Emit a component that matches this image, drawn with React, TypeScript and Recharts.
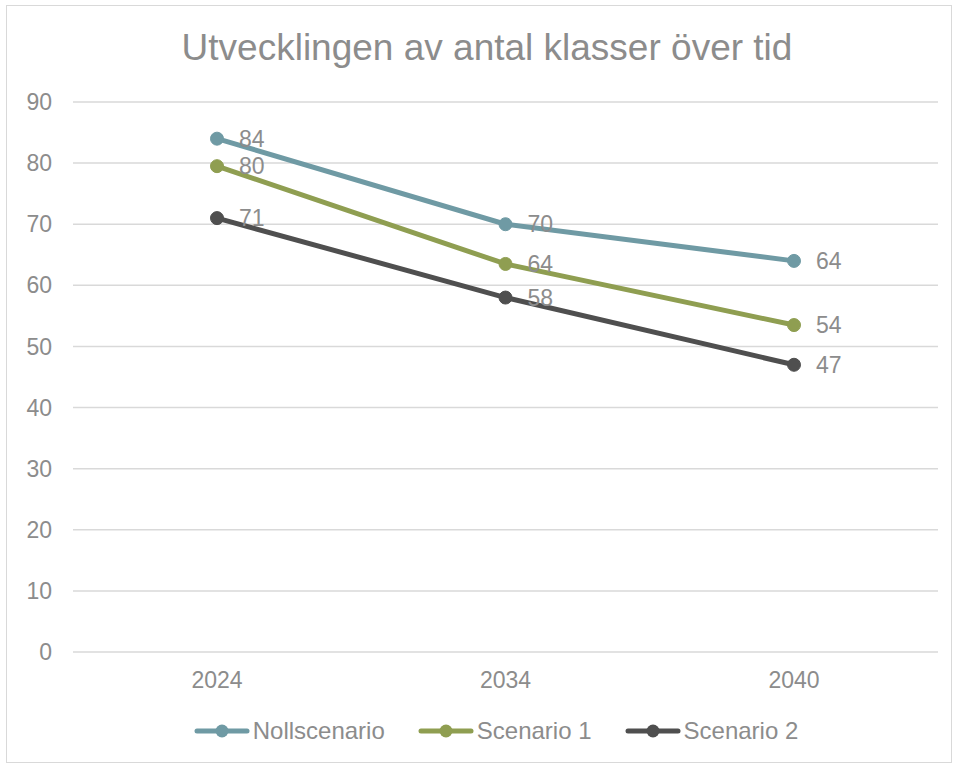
import { LineChart, Line, XAxis, YAxis, CartesianGrid, LabelList } from 'recharts';

const years = ['2024', '2034', '2040'];
const nollscenario = [84, 70, 64];
const scenario1 = [79.5, 63.5, 53.5];
const scenario2 = [71, 58, 47];
const yTicks = [0, 10, 20, 30, 40, 50, 60, 70, 80, 90];

const series = [
  { key: 'noll', name: 'Nollscenario', color: '#6f9aa4' },
  { key: 's1', name: 'Scenario 1', color: '#8f9e51' },
  { key: 's2', name: 'Scenario 2', color: '#4f4f4f' },
];

const data = years.map((year, i) => ({
  year,
  noll: nollscenario[i],
  s1: scenario1[i],
  s2: scenario2[i],
}));

const font = '"Liberation Sans", Arial, sans-serif';
const gray = '#8c8c8c';

function LegendRow() {
  return (
    <div
      style={{
        position: 'absolute', left: 18, top: 716, width: 956, height: 30,
        display: 'flex', justifyContent: 'center', alignItems: 'center', gap: 33,
        fontFamily: font, fontSize: 24, color: gray,
      }}
    >
      {series.map((s) => (
        <div key={s.key} style={{ display: 'flex', alignItems: 'center' }}>
          <svg width={56} height={16} style={{ marginRight: 3 }}>
            <line x1={3} y1={8} x2={53} y2={8} stroke={s.color} strokeWidth={5} strokeLinecap="round" />
            <circle cx={28} cy={8} r={6.5} fill={s.color} />
          </svg>
          <span>{s.name}</span>
        </div>
      ))}
    </div>
  );
}

export default function App() {
  return (
    <div style={{ position: 'absolute', left: 0, top: 0, width: 956, height: 765, background: '#fff' }}>
      <div style={{ position: 'absolute', left: 6, top: 5, width: 944, height: 756, border: '1px solid #d9d9d9' }} />
      <div
        style={{
          position: 'absolute', left: 9, top: 29, width: 956, textAlign: 'center',
          fontFamily: font, fontSize: 37, lineHeight: '37px', color: gray,
        }}
      >
        Utvecklingen av antal klasser över tid
      </div>
      <div style={{ position: 'absolute', left: 0, top: 0 }}>
        <LineChart width={956} height={765} data={data} margin={{ top: 102, right: 18, bottom: 83, left: 0 }}>
          <CartesianGrid vertical={false} stroke="#d9d9d9" strokeWidth={1.5} />
          <XAxis
            dataKey="year"
            height={30}
            axisLine={false}
            tickLine={false}
            tickSize={0}
            tickMargin={20}
            padding={{ left: 144, right: 144 }}
            tick={{ fill: gray, fontSize: 23, fontFamily: font }}
          />
          <YAxis
            width={73}
            domain={[0, 90]}
            ticks={yTicks}
            axisLine={false}
            tickLine={false}
            tickSize={0}
            tickMargin={21}
            tick={{ fill: gray, fontSize: 23, fontFamily: font }}
          />
          {series.map((s) => (
            <Line
              key={s.key}
              dataKey={s.key}
              name={s.name}
              stroke={s.color}
              strokeWidth={5}
              dot={{ r: 6.5, fill: s.color, stroke: s.color, strokeWidth: 1 }}
              isAnimationActive={false}
            >
              <LabelList
                dataKey={s.key}
                position="right"
                offset={22}
                formatter={(v: number) => Math.round(v)}
                style={{ fill: gray, fontSize: 23, fontFamily: font }}
              />
            </Line>
          ))}
        </LineChart>
      </div>
      <LegendRow />
    </div>
  );
}
